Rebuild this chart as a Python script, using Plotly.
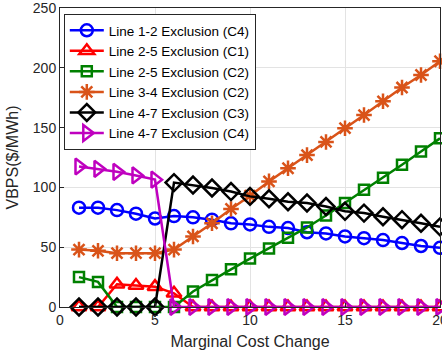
import plotly.graph_objects as go

x = list(range(1, 21))
names = ["Line 1-2 Exclusion (C4)", "Line 2-5 Exclusion (C1)", "Line 2-5 Exclusion (C2)",
         "Line 3-4 Exclusion (C2)", "Line 4-7 Exclusion (C3)", "Line 4-7 Exclusion (C4)"]
line12_c4 = [83, 83, 81, 78, 74, 76, 75, 73, 70, 69, 67, 66, 62.5, 61.5, 59, 57.5, 56, 53.5, 51, 49.5]
line25_c1 = [0, 0, 19, 18, 17, 11.5, 0, 0, 0, 0, 0, 0, 0, 0, 0, 0, 0, 0, 0, 0]
line25_c2 = [25, 21, 0, 0, 0, 0, 13, 22.5, 31.5, 40.5, 49, 58, 66.5, 76.5, 87, 98, 108, 119, 130, 141]
line34_c2 = [48, 47, 45, 45, 45, 48, 59, 70, 82, 93, 105, 116, 127, 138, 149.5, 160.5, 172, 183.5, 194, 205.5]
line47_c3 = [0, 0, 0, 0, 0, 104, 102, 99.5, 96.5, 92.5, 90.5, 88, 87, 84, 80, 78.5, 75.5, 73, 70, 67]
line47_c4 = [117.5, 115.5, 113, 110, 106.5, 0, 0, 0, 0, 0, 0, 0, 0, 0, 0, 0, 0, 0, 0, 0]
x_ticks = [0, 5, 10, 15, 20]
y_ticks = [0, 50, 100, 150, 200, 250]

series = [line12_c4, line25_c1, line25_c2, line34_c2, line47_c3, line47_c4]
colors = ["#0000FF", "#FF0000", "#008000", "#D95319", "#000000", "#BF00BF"]
symbols = ["circle-open", "triangle-up-open", "square-open", "asterisk-open", "diamond-open", "triangle-right-open"]
sizes = [12, 13, 10, 13, 13, 14]

fig = go.Figure()
for n, s, c, sym, sz in zip(names, series, colors, symbols, sizes):
    fig.add_trace(go.Scatter(
        x=x, y=s, name=n, mode="lines+markers", cliponaxis=False,
        line=dict(color=c, width=2.5),
        marker=dict(symbol=sym, size=sz, color=c, line=dict(color=c, width=2.5)),
    ))

axis_common = dict(showgrid=True, gridcolor="#E3E3E3", gridwidth=1, showline=True,
                   linecolor="#262626", linewidth=1, mirror=True, ticks="inside",
                   ticklen=4, tickcolor="#262626", zeroline=False, automargin=False,
                   ticklabeloverflow="allow",
                   tickfont=dict(family="Liberation Sans, Arial", size=14, color="#262626"))

fig.update_layout(
    width=442, height=356,
    margin=dict(l=60, r=2, t=8, b=49),
    paper_bgcolor="white", plot_bgcolor="white",
    font=dict(family="Liberation Sans, Arial", color="#262626"),
    showlegend=True,
    legend=dict(x=0.01, y=0.98, xanchor="left", yanchor="top",
                bgcolor="white", bordercolor="#262626", borderwidth=1,
                font=dict(size=13.5, color="#000000"), tracegroupgap=0,
                itemwidth=34),
    xaxis=dict(range=[0, 20], tickvals=x_ticks,
               title=dict(text="Marginal Cost Change", font=dict(size=16), standoff=9),
               **axis_common),
    yaxis=dict(range=[0, 250], tickvals=y_ticks,
               title=dict(text="VBPS($/MWh)", font=dict(size=16), standoff=10),
               **axis_common),
)

fig.write_html("out.html", config={"displayModeBar": False},
               post_script="document.body.style.margin='0';document.body.style.overflow='hidden';")
